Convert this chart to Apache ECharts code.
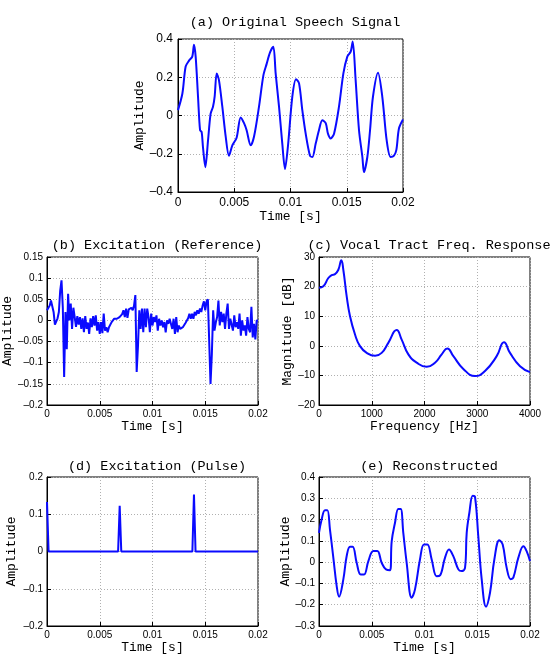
<!DOCTYPE html>
<html>
<head>
<meta charset="utf-8">
<script src="https://cdn.jsdelivr.net/npm/echarts@6/dist/echarts.min.js"></script>
<style>
    html, body {margin: 0; padding: 0; background: #fff;}
    #main {width: 550px; height: 655px;}
</style>
</head>
<body>
<div id="main"></div>
<script>
    /*---- data ----*/
    var speechT = [0, 0.00039, 0.00068, 0.00098, 0.00127, 0.00142, 0.00157, 0.00178, 0.00196, 0.0021, 0.00222, 0.00243,
        0.00267, 0.0029, 0.00311, 0.00326, 0.00344, 0.00364, 0.00394, 0.00424, 0.00453, 0.00483, 0.00521, 0.00557,
        0.00587, 0.0061, 0.00646, 0.00676, 0.0072, 0.00759, 0.00788, 0.00818, 0.00847, 0.00868, 0.00898, 0.00927,
        0.00951, 0.00978, 0.01016, 0.01049, 0.01076, 0.01105, 0.01135, 0.01173, 0.01194, 0.01224, 0.01253, 0.01283,
        0.01313, 0.01333, 0.01357, 0.01387, 0.01431, 0.0147, 0.01505, 0.01535, 0.01553, 0.01579, 0.01609, 0.01639,
        0.01653, 0.01683, 0.01707, 0.01733, 0.01778, 0.01816, 0.01855, 0.0189, 0.0192, 0.01941, 0.01964, 0.02];
    var speechY = [0.028, 0.115, 0.256, 0.287, 0.308, 0.37, 0.308, 0.098, -0.077, -0.086, -0.165, -0.27,
        -0.13, 0.01, 0.046, 0.1, 0.22, 0.185, 0.046, -0.11, -0.21, -0.156, -0.116, -0.01,
        -0.04, -0.077, -0.156, -0.11, 0.046, 0.21, 0.27, 0.33, 0.36, 0.22, 0.046, -0.147,
        -0.28, -0.156, 0.098, 0.19, 0.168, 0.028, -0.095, -0.21, -0.217, -0.147, -0.077, -0.025,
        -0.04, -0.095, -0.12, -0.095, 0.046, 0.22, 0.308, 0.334, 0.387, 0.185, -0.077, -0.217,
        -0.296, -0.217, -0.077, 0.098, 0.224, 0.098, -0.13, -0.217, -0.21, -0.18, -0.068, -0.021];

    // excitation sampled every 0.125 ms (8 kHz)
    var excitDt = 0.000125;
    var excitY = [0.024, 0.02, 0.035, 0.047, 0.045, 0.02, -0.01, -0.012, 0.005, 0.02,
        0.07, 0.095, 0.03, -0.134, 0.02, -0.068, 0.063, 0.0, 0.04, -0.02,
        0.03, 0.008, -0.015, 0.01, -0.01, 0.008, -0.02, 0.005, -0.028, 0.01,
        -0.02, -0.005, -0.032, 0.005, -0.016, 0.01, -0.012, 0.012, -0.024, -0.004,
        -0.032, -0.004, -0.03, 0.016, -0.024, -0.016, -0.028, -0.016, -0.02, -0.004,
        -0.006, 0.004, 0.006, 0.004, 0.006, 0.008, 0.004, 0.015, 0.024, 0.008,
        0.028, 0.006, 0.026, 0.028, 0.03, 0.024, 0.035, 0.06, -0.122, -0.06,
        0.024, -0.02, 0.028, -0.028, 0.028, -0.016, 0.028, 0.008, -0.028, 0.016,
        -0.012, 0.008, -0.004, 0.012, -0.024, 0.004, -0.012, 0.0, -0.016, -0.004,
        -0.028, 0.0, -0.008, 0.004, 0.008, -0.02, 0.004, -0.032, 0.008, -0.028,
        -0.012, -0.02, -0.016, -0.016, -0.012, -0.006, -0.004, 0.005, 0.016, 0.004,
        0.016, 0.004, 0.02, 0.012, 0.024, 0.016, 0.028, 0.02, 0.035, 0.045,
        0.024, 0.045, 0.05, 0.053, -0.15, -0.08, 0.024, -0.024, -0.005, 0.008,
        0.047, -0.012, 0.02, -0.004, 0.016, -0.02, 0.016, 0.04, -0.02, 0.004,
        0.0, -0.024, 0.012, -0.016, -0.004, -0.02, 0.016, -0.036, 0.0, -0.024,
        -0.012, -0.036, 0.008, -0.02, -0.028, 0.032, -0.04, -0.008, -0.045, 0.0,
        0.0];

    var vtFreq = [0, 82, 177, 240, 303, 367, 423, 461, 525, 588, 683, 777, 904, 1062, 1188, 1314, 1472,
        1567, 1694, 1852, 2041, 2199, 2326, 2433, 2547, 2736, 2958, 3147, 3368, 3507, 3621, 3811, 4000];
    var vtMag = [19.6, 20.1, 22.9, 23.9, 24.2, 25.7, 28.9, 25.7, 16.7, 10, 3.8, -0.1, -2.4, -3.4, -2.4, 1, 5.3,
        2.1, -2.9, -5.7, -7.1, -5.7, -2.9, -0.9, -3.5, -7.8, -10.2, -8.5, -3.5, 1.2, -2.4, -6.9, -8.9];

    var pulseT = [0, 0.00015, 0.00674, 0.00689, 0.00704, 0.01378, 0.01393, 0.01408, 0.02];
    var pulseY = [0.133, 0, 0, 0.123, 0, 0, 0.153, 0, 0];

    var reconT = [0, 0.00025, 0.00057, 0.00079, 0.00104, 0.00136, 0.00167, 0.0019, 0.00231, 0.00262, 0.00294,
        0.00319, 0.00357, 0.00395, 0.00427, 0.00468, 0.00515, 0.00553, 0.00594, 0.00635, 0.00673, 0.00689,
        0.0072, 0.00752, 0.00774, 0.00799, 0.00831, 0.00878, 0.0091, 0.00957, 0.00995, 0.01027, 0.01068,
        0.01115, 0.01147, 0.01194, 0.01232, 0.01273, 0.01321, 0.01352, 0.01384, 0.014, 0.01425, 0.01457,
        0.01479, 0.0151, 0.01542, 0.01583, 0.01621, 0.01662, 0.01709, 0.01741, 0.01779, 0.01817, 0.01842,
        0.01889, 0.01937, 0.01968, 0.02];
    var reconY = [0.1375, 0.2, 0.244, 0.244, 0.153, 0.02, -0.11, -0.1625, -0.08, 0.028, 0.072,
        0.072, -0.003, -0.058, -0.058, 0.005, 0.052, 0.052, -0.003, -0.034, -0.0375, 0.098,
        0.184, 0.25, 0.25, 0.1375, -0.003, -0.167, -0.128, 0.0125, 0.083, 0.083, 0.0125,
        -0.066, -0.0625, 0.02, 0.059, 0.028, -0.034, -0.042, -0.027, 0.1375, 0.231, 0.3125,
        0.306, 0.12, -0.08, -0.209, -0.144, 0.0125, 0.103, 0.083, -0.027, -0.08, -0.073,
        0.02, 0.075, 0.052, 0.005];

    /*---- tick labels ----*/
    var timeTicks = ['0', '0.005', '0.01', '0.015', '0.02'];
    var freqTicks = ['0', '1000', '2000', '3000', '4000'];
    var ampTicksA = ['\u20130.4', '\u20130.2', '0', '0.2', '0.4'];
    var ampTicksB = ['\u20130.2', '\u20130.15', '\u20130.1', '\u20130.05', '0', '0.05', '0.1', '0.15'];
    var magTicksC = ['\u201320', '\u201310', '0', '10', '20', '30'];
    var ampTicksD = ['\u20130.2', '\u20130.1', '0', '0.1', '0.2'];
    var ampTicksE = ['\u20130.3', '\u20130.2', '\u20130.1', '0', '0.1', '0.2', '0.3', '0.4'];

    var titleFont = 'Liberation Mono';
    var tickFont = 'Liberation Sans';
    var lineBlue = '#0a0aff';

    function pairs(xs, ys) {
        var out = [];
        for (var i = 0; i < ys.length; i++) out.push([xs[i], ys[i]]);
        return out;
    }

    function labelFn(labels, min, step) {
        return function (v) {
            return labels[Math.round((v - min) / step)];
        };
    }

    function axis(type, grid, min, max, step, labels, name, gap, fs, margin) {
        return {
            type: 'value',
            gridIndex: grid,
            min: min,
            max: max,
            interval: step,
            name: name,
            nameLocation: 'middle',
            nameGap: gap,
            nameTextStyle: {fontFamily: titleFont, fontSize: 13, color: '#000'},
            axisLine: {show: true, onZero: false, lineStyle: {color: '#000', width: 1}},
            axisTick: {show: true, inside: true, length: 4, lineStyle: {color: '#000'}},
            axisLabel: {
                fontFamily: tickFont, fontSize: fs, color: '#000', margin: margin,
                formatter: labelFn(labels, min, step)
            },
            splitLine: {show: true, lineStyle: {color: '#b0b0b0', type: [1, 2], width: 1}}
        };
    }

    function title(text, cx, top) {
        return {
            text: text, left: cx, top: top, textAlign: 'center',
            textStyle: {fontFamily: titleFont, fontSize: 13.5, fontWeight: 'normal', color: '#000'}
        };
    }

    function line(idx, data, smooth) {
        return {
            type: 'line', xAxisIndex: idx, yAxisIndex: idx, data: data,
            showSymbol: false, smooth: smooth, animation: false,
            lineStyle: {color: lineBlue, width: 2}
        };
    }

    var gridBox = {show: true, borderColor: '#000', borderWidth: 1, backgroundColor: 'transparent'};

    var chart = echarts.init(document.getElementById('main'));
    chart.setOption({
        backgroundColor: '#fff',
        animation: false,
        title: [
            title('(a) Original Speech Signal', 290, 10),
            title('(b) Excitation (Reference)', 152, 233),
            title('(c) Vocal Tract Freq. Response', 424, 233),
            title('(d) Excitation (Pulse)', 152, 454),
            title('(e) Reconstructed', 424, 454)
        ],
        grid: [
            Object.assign({left: 178, top: 39, width: 225, height: 153}, gridBox),
            Object.assign({left: 47, top: 257, width: 211, height: 148}, gridBox),
            Object.assign({left: 319, top: 257, width: 211, height: 148}, gridBox),
            Object.assign({left: 47, top: 477, width: 211, height: 149}, gridBox),
            Object.assign({left: 319, top: 477, width: 211, height: 149}, gridBox)
        ],
        xAxis: [
            axis('x', 0, 0, 0.02, 0.005, timeTicks, 'Time [s]', 16, 12, 5),
            axis('x', 1, 0, 0.02, 0.005, timeTicks, 'Time [s]', 13, 10, 4),
            axis('x', 2, 0, 4000, 1000, freqTicks, 'Frequency [Hz]', 13, 10, 4),
            axis('x', 3, 0, 0.02, 0.005, timeTicks, 'Time [s]', 11, 10, 4),
            axis('x', 4, 0, 0.02, 0.005, timeTicks, 'Time [s]', 11, 10, 4)
        ],
        yAxis: [
            axis('y', 0, -0.4, 0.4, 0.2, ampTicksA, 'Amplitude', 26, 12, 5),
            axis('y', 1, -0.2, 0.15, 0.05, ampTicksB, 'Amplitude', 29, 10, 4),
            axis('y', 2, -20, 30, 10, magTicksC, 'Magnitude [dB]', 22, 10, 4),
            axis('y', 3, -0.2, 0.2, 0.1, ampTicksD, 'Amplitude', 29, 10, 4),
            axis('y', 4, -0.3, 0.4, 0.1, ampTicksE, 'Amplitude', 27, 10, 4)
        ],
        series: [
            line(0, pairs(speechT, speechY), 0.3),
            line(1, excitY.map(function (v, i) { return [i * excitDt, v]; }), false),
            line(2, pairs(vtFreq, vtMag), 0.5),
            line(3, pairs(pulseT, pulseY), false),
            line(4, pairs(reconT, reconY), 0.4)
        ]
    });

    window.onresize = function () {
        chart.resize();
    };
</script>
</body>
</html>
